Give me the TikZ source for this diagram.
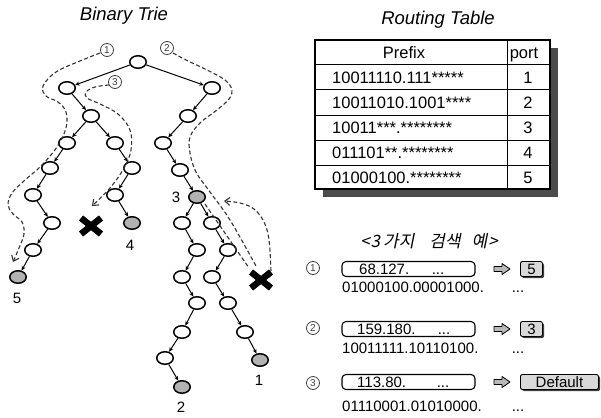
\documentclass[tikz,border=0pt]{standalone}
\usepackage{fontspec}
\setmainfont{Liberation Sans}
\newfontfamily\krfont[FakeSlant=0.2]{Noto Sans CJK KR}
\usetikzlibrary{arrows.meta,shapes.geometric,shadows}

\tikzset{
  title/.style={font=\fontsize{18.5}{20}\selectfont\itshape},
  trienode/.style={ellipse, draw, line width=1.5pt, fill=white,
    minimum width=16.5pt, minimum height=12.5pt, inner sep=0pt},
  hit/.style={trienode, fill=gray!60},
  link/.style={-{Stealth[length=4.5pt,width=4pt]}, line width=1pt},
  route/.style={dash pattern=on 4pt off 2.5pt, line width=1.1pt, black!80},
  routetip/.style={route, -{Straight Barb[length=5pt,width=8pt]}},
  portlabel/.style={font=\fontsize{15}{16}\selectfont, inner sep=0pt,
    text height=10.8pt, text depth=0pt},
  circnum/.style={circle, draw=black!75, line width=0.8pt, minimum size=13pt,
    inner sep=0pt, text=black!75, font=\fontsize{10}{10}\selectfont},
  cell/.style={font=\fontsize{16.5}{18}\selectfont, inner sep=0pt,
    text height=11.8pt, text depth=0pt},
  txt/.style={font=\fontsize{15}{17}\selectfont, inner sep=0pt,
    text height=10.8pt, text depth=0pt},
  inbox/.style={draw, rounded corners=4pt, line width=1.1pt, minimum width=133pt,
    minimum height=15pt, inner sep=0pt},
  resbox/.style={draw, rounded corners=2pt, fill=gray!30, line width=0.9pt,
    minimum height=15pt, inner sep=2pt, font=\fontsize{15}{17}\selectfont,
    drop shadow={shadow xshift=1.6pt, shadow yshift=-1.6pt, fill=black!75, opacity=1}},
  xmark/.pic={\draw[line width=6.5pt] (-10,-8) -- (10,8) (-10,8) -- (10,-8);},
  fatarrow/.pic={\draw[fill=gray!55, line width=0.8pt, line join=round]
    (-8,-2.5) -- (0,-2.5) -- (0,-5.5) -- (8,0) -- (0,5.5) -- (0,2.5) -- (-8,2.5) -- cycle;}
}

\begin{document}
\begin{tikzpicture}[x=1pt,y=-1pt]
\useasboundingbox (0,0) rectangle (601,417);

% titles
\node[title] (trietitle) at (124,16) {Binary Trie};
\node[title] (tabletitle) at (438,20) {Routing Table};

% ---------------- binary trie ----------------
\node[trienode] (root) at (138,62) {};
\node[trienode] (a)  at (67,88) {};
\node[trienode] (b)  at (212,88) {};
\node[trienode] (a1) at (91,116) {};
\node[trienode] (a2) at (67,143) {};
\node[trienode] (a3) at (115,143) {};
\node[trienode] (a4) at (50,168) {};
\node[trienode] (a5) at (33,195) {};
\node[trienode] (a6) at (52,223) {};
\node[trienode] (a7) at (33,250) {};
\node[hit]      (p5) at (18,277) {};
\node[trienode] (a8) at (132,168) {};
\node[trienode] (a9) at (115,195) {};
\node[hit]      (p4) at (132,223) {};
\node[trienode] (b1) at (188,116) {};
\node[trienode] (b2) at (163,143) {};
\node[trienode] (b3) at (180,170) {};
\node[hit]      (p3) at (197,197) {};
\node[trienode] (c1) at (182,223) {};
\node[trienode] (c2) at (197,250) {};
\node[trienode] (c3) at (182,277) {};
\node[trienode] (c4) at (197,303) {};
\node[trienode] (c5) at (182,332) {};
\node[trienode] (c6) at (165,358) {};
\node[hit]      (p2) at (182,387) {};
\node[trienode] (d1) at (212,223) {};
\node[trienode] (d2) at (228,250) {};
\node[trienode] (d3) at (212,277) {};
\node[trienode] (d4) at (228,303) {};
\node[trienode] (d5) at (245,332) {};
\node[hit]      (p1) at (260,360) {};

\foreach \u/\v in {root/a, root/b, a/a1, a1/a2, a1/a3, a2/a4, a4/a5, a5/a6, a6/a7,
  a7/p5, a3/a8, a8/a9, a9/p4, b/b1, b1/b2, b2/b3, b3/p3, p3/c1, p3/d1,
  c1/c2, c2/c3, c3/c4, c4/c5, c5/c6, c6/p2, d1/d2, d2/d3, d3/d4, d4/d5, d5/p1}
  \draw[link] (\u) -- (\v);

% port labels
\node[portlabel] (l5) at (17,298) {5};
\node[portlabel] (l4) at (130,245) {4};
\node[portlabel] (l3) at (176,197) {3};
\node[portlabel] (l2) at (181,407) {2};
\node[portlabel] (l1) at (259,380) {1};

% failed branches
\pic (xleft) at (91,226) {xmark};
\pic (xright) at (261,280) {xmark};

% search routes
\node[circnum] (r1) at (107,50) {1};
\node[circnum] (r2) at (167,48) {2};
\node[circnum] (r3) at (115,82) {3};

\draw[routetip] plot[smooth, tension=0.6] coordinates {(100,53) (80,61) (56,72) (43,86)
  (46,96) (58,102) (66,112) (66,128) (57,147) (41,166) (25,180) (12,193) (8,205)
  (13,214) (22,222) (24,234) (19,248) (13,262)};
\draw[route] plot[smooth, tension=0.6] coordinates {(173,53) (186,60) (207,70) (225,80)
  (232,90) (229,99) (217,110) (200,123) (190,137) (190,153) (196,172) (210,192)
  (230,220) (256,266)};
\draw[route] (205,204) -- (249,268);
\draw[routetip] plot[smooth, tension=0.6] coordinates {(271,271) (269,240) (264,222)
  (254,209) (240,203) (224,201)};
\draw[routetip] plot[smooth, tension=0.6] coordinates {(109,85) (95,87) (86,92) (87,98)
  (100,104) (118,114) (130,130) (131,150) (124,168) (110,188) (92,206)};

% ---------------- routing table ----------------
\fill[black!70] (323,48) rectangle (558,197);
\draw[fill=white, line width=1.2pt] (315,40) rectangle (550,189);
\foreach \yy in {65,90,115,140,165}
  \draw[line width=1pt] (315,\yy) -- (550,\yy);
\draw[line width=1pt] (507,40) -- (507,189);

\node[cell] (hprefix) at (404,52.5) {Prefix};
\node[cell] (hport) at (524,52.5) {port};
\node[cell, anchor=west] (pre1) at (332,77.5)  {10011110.111*****};
\node[cell, anchor=west] (pre2) at (332,102.5) {10011010.1001****};
\node[cell, anchor=west] (pre3) at (332,127.5) {10011***.********};
\node[cell, anchor=west] (pre4) at (332,152.5) {011101**.********};
\node[cell, anchor=west] (pre5) at (332,177.5) {01000100.********};
\node[cell] (port1) at (528,77.5)  {1};
\node[cell] (port2) at (528,102.5) {2};
\node[cell] (port3) at (528,127.5) {3};
\node[cell] (port4) at (528,152.5) {4};
\node[cell] (port5) at (528,177.5) {5};

% ---------------- lookup examples ----------------
\node (extitle) at (429,241) {\fontsize{17}{18}\selectfont\krfont
  <\hspace{1pt}3\hspace{3pt}가지\hspace{15pt}검색\hspace{11pt}예\hspace{1pt}>};

\node[circnum] (e1) at (313,268) {1};
\node[circnum] (e2) at (313,328) {2};
\node[circnum] (e3) at (313,383) {3};

\node[inbox] (in1) at (408.5,269) {};
\node[inbox] (in2) at (408.5,329) {};
\node[inbox] (in3) at (408.5,382) {};
\node[txt, anchor=west] (ip1) at (359,269.5) {68.127.};
\node[txt, anchor=west] (ip2) at (357,329.5) {159.180.};
\node[txt, anchor=west] (ip3) at (357,382.5) {113.80.};
\node[txt] (ip1d) at (438,269.5) {...};
\node[txt] (ip2d) at (444,329.5) {...};
\node[txt] (ip3d) at (443,382.5) {...};

\pic at (502,269) {fatarrow};
\pic at (502,329) {fatarrow};
\pic at (502,382) {fatarrow};

\node[resbox, anchor=west, minimum width=22pt] (res1) at (520,269) {5};
\node[resbox, anchor=west, minimum width=22pt] (res2) at (520,329) {3};
\node[resbox, anchor=west, minimum width=78pt] (res3) at (520,382) {Default};

\node[txt, anchor=west] (bin1) at (342,287) {01000100.00001000.};
\node[txt, anchor=west] (bin2) at (342,348) {10011111.10110100.};
\node[txt, anchor=west] (bin3) at (342,406) {01110001.01010000.};
\node[txt] (bin1d) at (518,287) {...};
\node[txt] (bin2d) at (518,348) {...};
\node[txt] (bin3d) at (518,406) {...};
\end{tikzpicture}
\end{document}
